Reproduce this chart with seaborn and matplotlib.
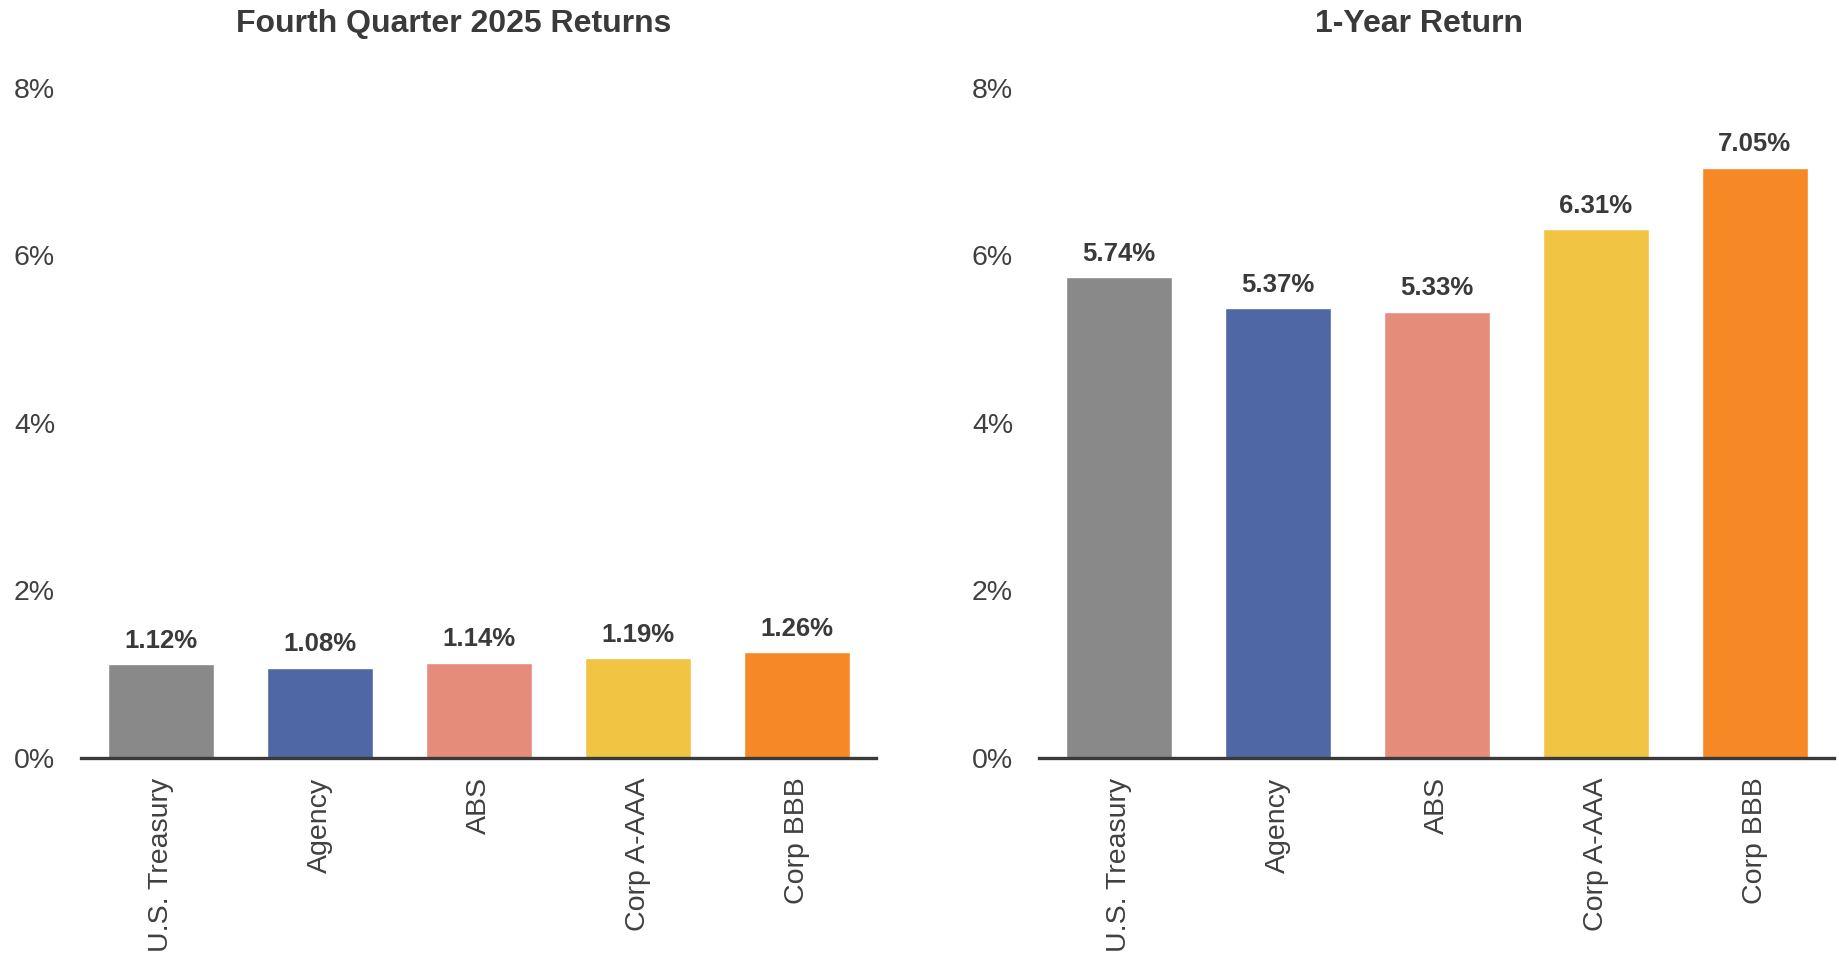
import matplotlib
matplotlib.use("Agg")
import numpy as np
import pandas as pd
import seaborn as sns
from matplotlib import pyplot as plt
from matplotlib.ticker import FuncFormatter

# Data
categories = ["U.S. Treasury", "Agency", "ABS", "Corp A-AAA", "Corp BBB"]
q4_returns = [1.12, 1.08, 1.14, 1.19, 1.26]
one_year_returns = [5.74, 5.37, 5.33, 6.31, 7.05]
titles = ["Fourth Quarter 2025 Returns", "1-Year Return"]
y_ticks = [0, 2, 4, 6, 8]

colors = ["#898989", "#4F67A4", "#E58C7A", "#F2C443", "#F78826"]
text_color = "#404040"

sns.set_style("white")
plt.rcParams["font.family"] = ["Liberation Sans", "DejaVu Sans"]


def draw_panel(ax, values, title, title_x):
    df = pd.DataFrame({"category": categories, "value": values})
    sns.barplot(
        data=df, x="category", y="value", hue="category",
        palette=colors, legend=False, width=0.665, saturation=1, ax=ax,
    )
    # Value labels above bars
    for container in ax.containers:
        ax.bar_label(
            container, fmt="%.2f%%", padding=8,
            fontsize=18.5, fontweight="bold", color="#3a3a3a",
        )

    ax.set_ylim(0, 8)
    ax.set_xlim(-0.5, len(categories) - 0.5)
    ax.set_yticks(y_ticks)
    ax.yaxis.set_major_formatter(FuncFormatter(lambda v, _: f"{v:.0f}%"))
    ax.set_xlabel("")
    ax.set_ylabel("")
    ax.tick_params(axis="y", length=0, pad=19, labelsize=20.5, labelcolor=text_color)
    ax.tick_params(axis="x", length=0, pad=14, labelsize=20.5, labelcolor=text_color,
                   labelrotation=90)
    for lbl in ax.get_xticklabels():
        lbl.set_va("top")
        lbl.set_ha("center")

    for side in ["top", "right", "left"]:
        ax.spines[side].set_visible(False)
    ax.spines["bottom"].set_linewidth(2.4)
    ax.spines["bottom"].set_color("#3a3a3a")
    ax.grid(False)

    ax.set_title(title, x=title_x, pad=40, fontsize=23, fontweight="bold",
                 color="#3a3a3a")


fig = plt.figure(figsize=(18.39, 9.6), dpi=100)
ax_left = fig.add_axes([0.0443, 0.2104, 0.4322, 0.6980])
ax_right = fig.add_axes([0.5652, 0.2104, 0.4323, 0.6980])

draw_panel(ax_left, q4_returns, titles[0], 0.4685)
draw_panel(ax_right, one_year_returns, titles[1], 0.477)

fig.savefig("out.png", dpi=100, facecolor="white")
